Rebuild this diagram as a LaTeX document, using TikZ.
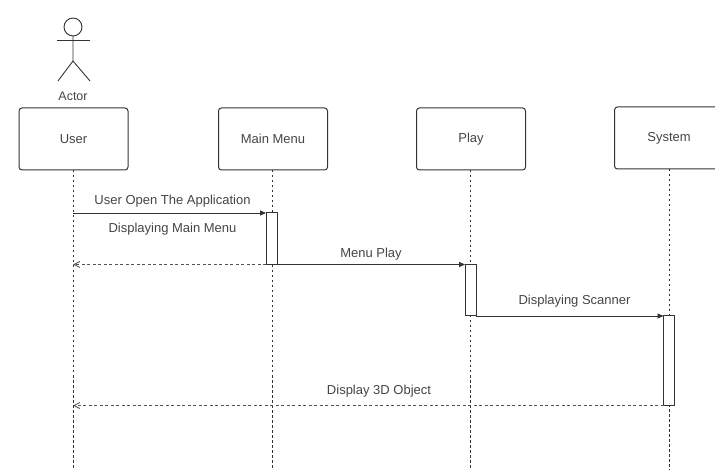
\documentclass[tikz,border=0pt]{standalone}
\usepackage{fontspec}
\setmainfont{Liberation Sans}
\usetikzlibrary{arrows.meta}
\definecolor{ink}{gray}{0.2}
\definecolor{txt}{gray}{0.27}
\tikzset{
  x=1pt,y=-1pt,
  every node/.style={font=\fontsize{13}{15}\selectfont,text=txt,inner sep=0pt,outer sep=0pt},
  obj/.style={draw=ink,line width=1pt,rounded corners=3pt,minimum width=109pt,minimum height=62pt,fill=white},
  life/.style={draw=ink,line width=0.8pt,dash pattern=on 2.5pt off 2.5pt},
  act/.style={draw=ink,line width=1pt,fill=white,minimum width=11pt,anchor=north},
  msg/.style={draw=ink,line width=0.9pt,-{Triangle[length=6pt,width=5pt]}},
  ret/.style={draw=ink!85,line width=0.8pt,dash pattern=on 3pt off 2.5pt,-{Straight Barb[length=6pt,width=6pt]}},
  fig/.style={draw=ink,line width=0.9pt}
}
\begin{document}
\begin{tikzpicture}
\useasboundingbox (0,0) rectangle (715,470);
\clip (0,0) rectangle (715,470);
\fill[white] (0,0) rectangle (715,470);
% actor
\node[fig,circle,minimum size=18pt] (head) at (73,27) {};
\coordinate (hip) at (73,61);
\coordinate (armL) at (57,40);
\coordinate (armR) at (90,40);
\coordinate (legL) at (58,81);
\coordinate (legR) at (90,81);
\draw[fig] (head.south) -- (hip) -- (legL);
\draw[fig] (hip) -- (legR);
\draw[fig] (armL) -- (armR);
\node[font=\fontsize{12.5}{14}\selectfont] (actorlabel) at (73,96) {Actor};
% objects
\node[obj] (user) at (73.5,139) {User};
\node[obj] (menu) at (273,139) {Main Menu};
\node[obj] (play) at (471,139) {Play};
\node[obj] (sys) at (669,138) {System};
% lifeline ends
\coordinate (userEnd) at (73,470);
\coordinate (menuEnd) at (272,470);
\coordinate (playEnd) at (470,470);
\coordinate (sysEnd) at (669,470);
\draw[life] (user.south -| userEnd) -- (userEnd);
\draw[life] (menu.south -| menuEnd) -- (menuEnd);
\draw[life] (play.south -| playEnd) -- (playEnd);
\draw[life] (sys.south -| sysEnd) -- (sysEnd);
% activations
\node[act,minimum height=51.5pt] (aM) at (271.5,213) {};
\node[act,minimum height=51.5pt] (aP) at (470.5,264.5) {};
\node[act,minimum height=89.5pt] (aS) at (669,316) {};
% messages
\coordinate (u1) at (73,213);
\coordinate (u2) at (73,264.5);
\coordinate (u3) at (73,405.5);
\draw[msg] (u1) -- (aM.north west);
\draw[ret] (aM.south west) -- (u2);
\draw[msg] (aM.south east) -- (aP.north west);
\draw[msg] (aP.south east) -- (aS.north west);
\draw[ret] (aS.south west) -- (u3);
% labels
\node (l1) at (172.5,201) {User Open The Application};
\node (l2) at (172.5,229.5) {Displaying Main Menu};
\node (l3) at (371,254.5) {Menu Play};
\node (l4) at (574.5,301) {Displaying Scanner};
\node (l5) at (379,391) {Display 3D Object};
\end{tikzpicture}
\end{document}
